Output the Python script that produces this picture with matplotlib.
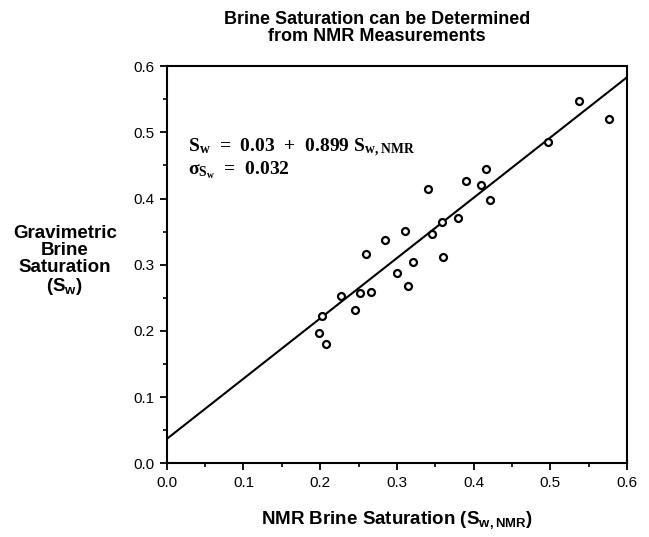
import matplotlib
matplotlib.use("Agg")
import matplotlib.pyplot as plt
from matplotlib.ticker import MultipleLocator, FormatStrFormatter

sw_nmr = [0.538, 0.577, 0.497, 0.416, 0.390, 0.410, 0.340, 0.422, 0.380, 0.359,
          0.346, 0.310, 0.284, 0.260, 0.360, 0.321, 0.300, 0.315, 0.227, 0.252,
          0.266, 0.246, 0.202, 0.198, 0.207]
sw_grav = [0.547, 0.520, 0.486, 0.444, 0.427, 0.421, 0.414, 0.398, 0.371, 0.365,
           0.346, 0.351, 0.338, 0.316, 0.312, 0.304, 0.287, 0.268, 0.253, 0.258,
           0.259, 0.232, 0.223, 0.197, 0.181]

# fitted line as drawn
fit_x = [0.0, 0.6]
fit_intercept = 0.037
fit_slope = 0.91

plt.rcParams['mathtext.default'] = 'regular'
sans = 'Liberation Sans'
serif = 'Liberation Serif'

fig = plt.figure(figsize=(6.49, 5.37), dpi=100)
ax = fig.add_axes([0.257, 0.137, 0.709, 0.740])

fit_y = [fit_intercept + fit_slope * x for x in fit_x]
ax.plot(fit_x, fit_y, color='black', lw=1.5)
ax.plot(sw_nmr, sw_grav, 'o', mfc='white', mec='black', ms=5, mew=1.6)

ax.set_xlim(0, 0.6)
ax.set_ylim(0, 0.6)
ax.xaxis.set_major_locator(MultipleLocator(0.1))
ax.yaxis.set_major_locator(MultipleLocator(0.1))
ax.xaxis.set_minor_locator(MultipleLocator(0.05))
ax.yaxis.set_minor_locator(MultipleLocator(0.05))
ax.xaxis.set_major_formatter(FormatStrFormatter('%.1f'))
ax.yaxis.set_major_formatter(FormatStrFormatter('%.1f'))
ax.tick_params(which='major', length=5, width=1.3, direction='out', labelsize=11, pad=4)
ax.tick_params(which='minor', length=3, width=1.2, direction='out')
for lab in ax.get_xticklabels() + ax.get_yticklabels():
    lab.set_family(sans)
for s in ax.spines.values():
    s.set_linewidth(1.5)

ax.set_xlabel('NMR Brine Saturation (S$_{w,NMR}$)', family=sans, weight='bold',
              fontsize=13.5, va='center')
ax.xaxis.set_label_coords(0.5, -0.143)
fig.text(0.100, 0.514, 'Gravimetric\nBrine\nSaturation\n(S$_w$)', family=sans,
         weight='bold', fontsize=13.5, ha='center', va='center', linespacing=1.0)
fig.text(0.581, 0.948, 'Brine Saturation can be Determined\nfrom NMR Measurements',
         family=sans, weight='bold', fontsize=13, ha='center', va='center',
         linespacing=1.05)

ax.text(0.028, 0.476, 'S$_w$  =  0.03  +  0.899 S$_{w,NMR}$', family=serif,
        weight='bold', fontsize=14, va='center')
ax.text(0.028, 0.443, 'σ$_{S_w}$  =  0.032', family=serif,
        weight='bold', fontsize=14, va='center')

fig.savefig('out.png', dpi=100)
